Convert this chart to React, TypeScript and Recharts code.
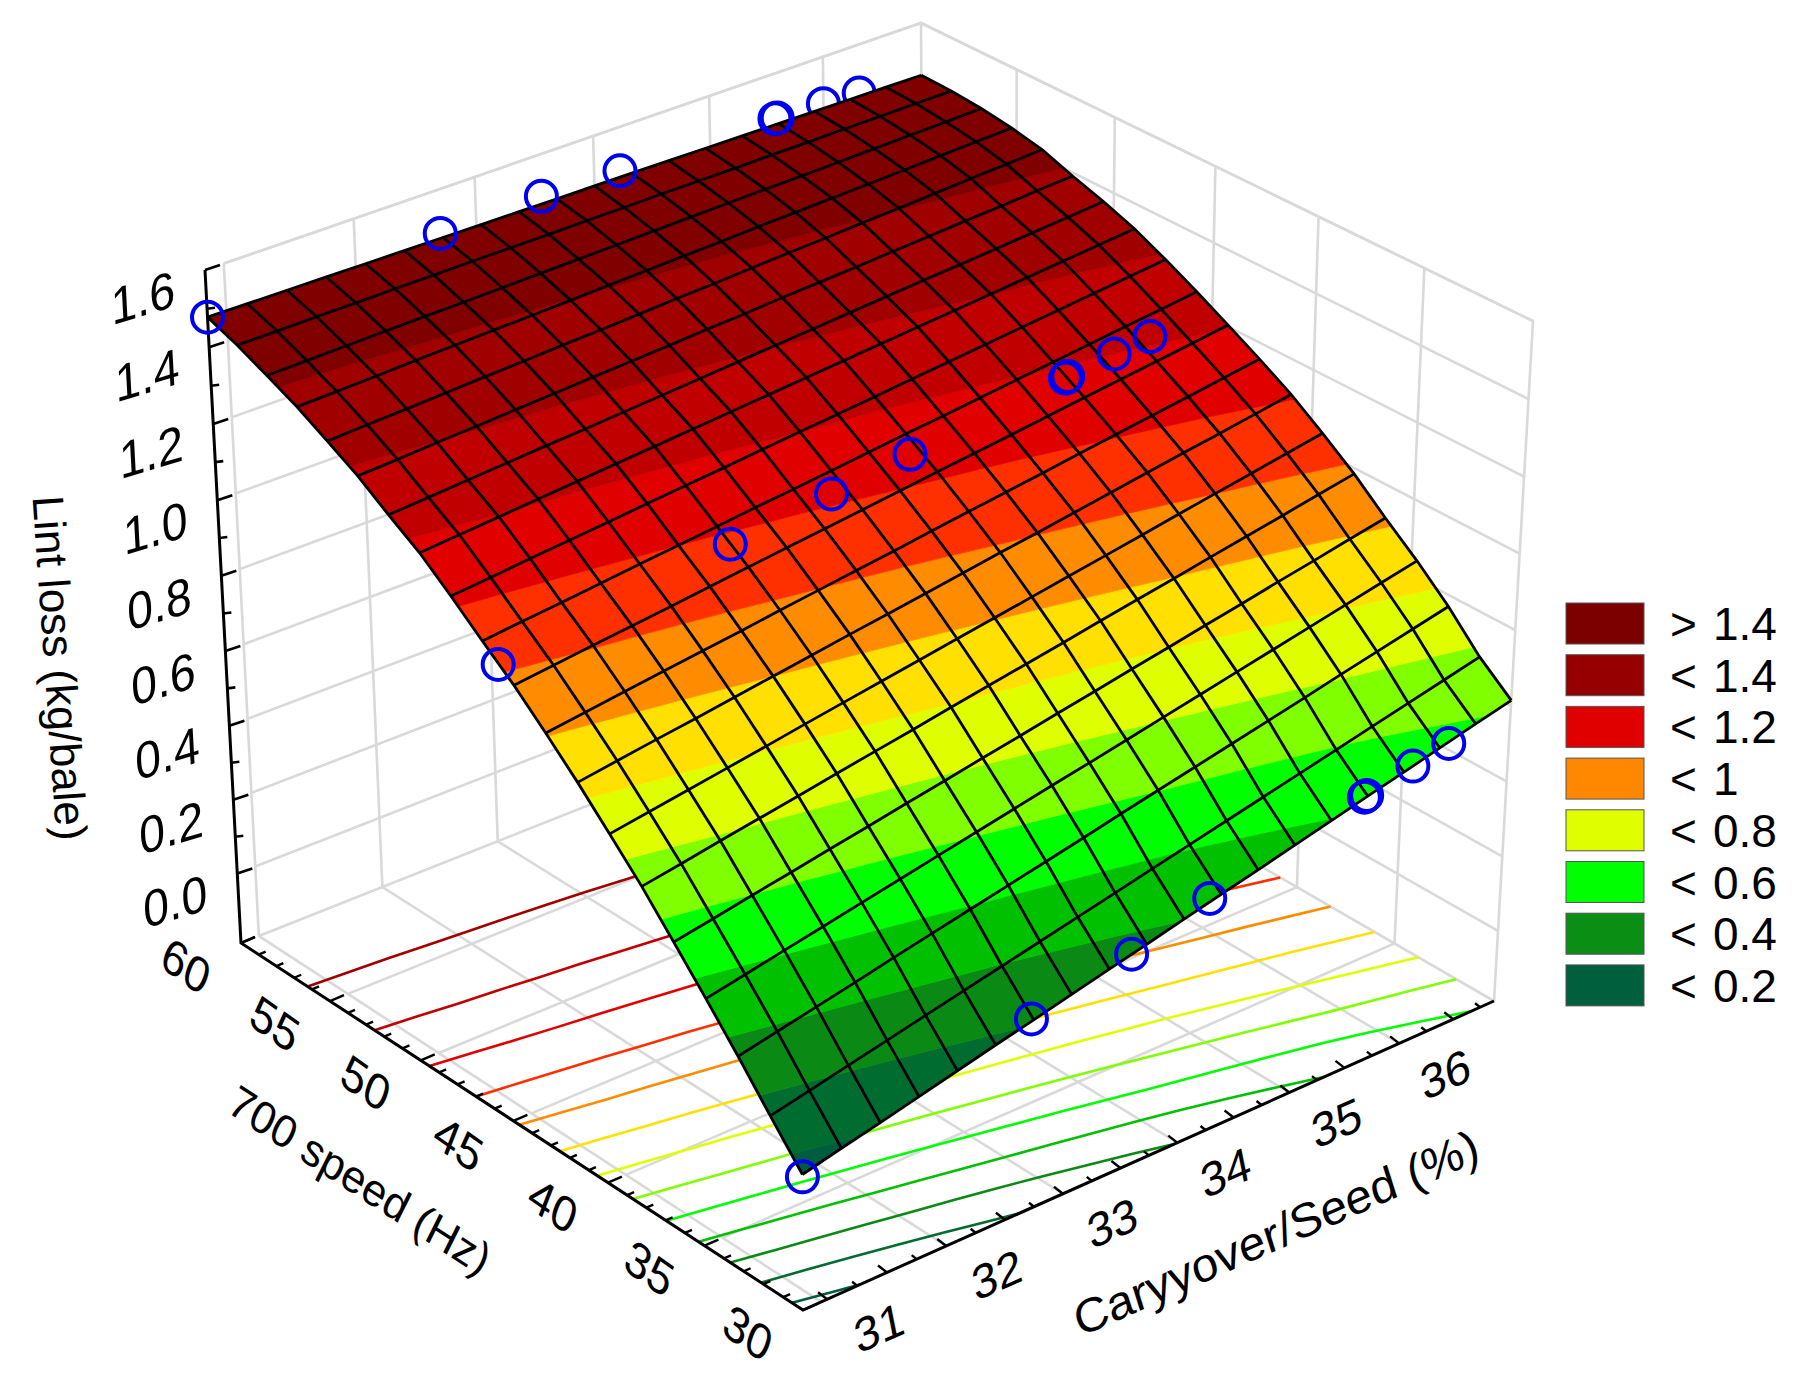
import { ScatterChart, Scatter, XAxis, YAxis } from "recharts";

// mesh nodes of the fitted surface
const speedNodes = [60, 58.42, 56.84, 55.26, 53.68, 52.11, 50.53, 48.95, 47.37, 45.79, 44.21, 42.63, 41.05, 39.47, 37.89, 36.32, 34.74, 33.16, 31.58, 30];
const carryNodes = [30.3, 30.62, 30.94, 31.26, 31.58, 31.9, 32.22, 32.54, 32.86, 33.18, 33.5, 33.82, 34.14, 34.46, 34.78, 35.1, 35.42, 35.74, 36.06, 36.38];

// lint loss, one row per speed node, one column per carryover node
const lintLoss = [
  [1.478, 1.477, 1.476, 1.475, 1.474, 1.473, 1.472, 1.471, 1.47, 1.469, 1.469, 1.468, 1.467, 1.466, 1.465, 1.464, 1.463, 1.462, 1.461, 1.46],
  [1.449, 1.449, 1.45, 1.45, 1.451, 1.451, 1.452, 1.452, 1.452, 1.453, 1.453, 1.454, 1.454, 1.454, 1.455, 1.455, 1.456, 1.456, 1.457, 1.457],
  [1.414, 1.416, 1.418, 1.42, 1.422, 1.423, 1.425, 1.427, 1.429, 1.431, 1.433, 1.435, 1.437, 1.439, 1.44, 1.442, 1.444, 1.446, 1.448, 1.45],
  [1.377, 1.38, 1.383, 1.387, 1.39, 1.393, 1.396, 1.399, 1.403, 1.406, 1.409, 1.412, 1.416, 1.419, 1.422, 1.425, 1.428, 1.432, 1.435, 1.438],
  [1.333, 1.338, 1.342, 1.347, 1.352, 1.356, 1.361, 1.365, 1.37, 1.375, 1.379, 1.384, 1.389, 1.393, 1.398, 1.402, 1.407, 1.412, 1.416, 1.421],
  [1.288, 1.293, 1.299, 1.304, 1.31, 1.315, 1.321, 1.326, 1.331, 1.337, 1.342, 1.348, 1.353, 1.358, 1.364, 1.369, 1.375, 1.38, 1.386, 1.391],
  [1.233, 1.24, 1.247, 1.254, 1.261, 1.267, 1.274, 1.281, 1.288, 1.295, 1.302, 1.309, 1.316, 1.323, 1.33, 1.336, 1.343, 1.35, 1.357, 1.364],
  [1.181, 1.189, 1.197, 1.205, 1.213, 1.221, 1.229, 1.237, 1.245, 1.253, 1.261, 1.269, 1.277, 1.285, 1.293, 1.301, 1.309, 1.317, 1.325, 1.333],
  [1.116, 1.125, 1.135, 1.144, 1.153, 1.163, 1.172, 1.181, 1.191, 1.2, 1.209, 1.218, 1.228, 1.237, 1.246, 1.256, 1.265, 1.274, 1.284, 1.293],
  [1.047, 1.058, 1.068, 1.079, 1.09, 1.1, 1.111, 1.122, 1.132, 1.143, 1.154, 1.165, 1.175, 1.186, 1.197, 1.207, 1.218, 1.229, 1.239, 1.25],
  [0.98, 0.992, 1.004, 1.015, 1.027, 1.039, 1.051, 1.063, 1.074, 1.086, 1.098, 1.11, 1.121, 1.133, 1.145, 1.157, 1.169, 1.18, 1.192, 1.204],
  [0.905, 0.918, 0.932, 0.945, 0.958, 0.971, 0.985, 0.998, 1.011, 1.024, 1.038, 1.051, 1.064, 1.077, 1.091, 1.104, 1.117, 1.13, 1.144, 1.157],
  [0.826, 0.841, 0.856, 0.87, 0.885, 0.9, 0.915, 0.93, 0.944, 0.959, 0.974, 0.989, 1.003, 1.018, 1.033, 1.048, 1.063, 1.077, 1.092, 1.107],
  [0.742, 0.758, 0.774, 0.79, 0.806, 0.823, 0.839, 0.855, 0.871, 0.887, 0.903, 0.919, 0.935, 0.951, 0.967, 0.984, 1.0, 1.016, 1.032, 1.048],
  [0.656, 0.673, 0.691, 0.708, 0.725, 0.743, 0.76, 0.777, 0.795, 0.812, 0.829, 0.846, 0.864, 0.881, 0.898, 0.916, 0.933, 0.95, 0.968, 0.985],
  [0.562, 0.58, 0.599, 0.617, 0.636, 0.654, 0.673, 0.691, 0.71, 0.728, 0.747, 0.765, 0.784, 0.802, 0.821, 0.839, 0.858, 0.876, 0.895, 0.913],
  [0.466, 0.486, 0.506, 0.526, 0.546, 0.566, 0.586, 0.606, 0.626, 0.646, 0.665, 0.685, 0.705, 0.725, 0.745, 0.765, 0.785, 0.805, 0.825, 0.845],
  [0.368, 0.389, 0.41, 0.431, 0.453, 0.474, 0.495, 0.516, 0.537, 0.558, 0.58, 0.601, 0.622, 0.643, 0.664, 0.685, 0.707, 0.728, 0.749, 0.77],
  [0.265, 0.287, 0.309, 0.331, 0.353, 0.375, 0.397, 0.419, 0.441, 0.463, 0.485, 0.507, 0.529, 0.551, 0.573, 0.595, 0.617, 0.639, 0.661, 0.683],
  [0.165, 0.189, 0.212, 0.236, 0.26, 0.284, 0.307, 0.331, 0.355, 0.378, 0.402, 0.426, 0.449, 0.473, 0.497, 0.521, 0.544, 0.568, 0.592, 0.615],
];

// observed points, same carryover values at each of the three speeds
const obsCarry = [30.3, 32.2, 33.05, 33.72, 35.07, 35.09, 35.5, 35.82];
const obsLoss60 = [1.478, 1.485, 1.49, 1.485, 1.48, 1.48, 1.475, 1.47];
const obsLoss45 = [1.01, 1.09, 1.12, 1.145, 1.19, 1.192, 1.205, 1.215];
const obsLoss30 = [0.159, 0.312, 0.369, 0.428, 0.522, 0.524, 0.55, 0.57];

const bandLevels = [0.2, 0.3, 0.4, 0.5, 0.6, 0.7, 0.8, 0.9, 1.0, 1.1, 1.2, 1.3, 1.4];
const bandColors = ["#005c40", "#006c30", "#0a8a14", "#00c000", "#00ff00", "#80ff00", "#dfff00", "#ffe000", "#ff8c00", "#ff3000", "#e00000", "#c00000", "#a00000", "#800000"];

const lossTicks = [1.6, 1.4, 1.2, 1.0, 0.8, 0.6, 0.4, 0.2, 0.0];
const speedTicks = [60, 55, 50, 45, 40, 35, 30];
const carryTicks = [31, 32, 33, 34, 35, 36];
const carryGrid = [31.5, 32.5, 33.5, 34.5, 35.5];

const legendSigns = [">", "<", "<", "<", "<", "<", "<", "<"];
const legendValues = ["1.4", "1.4", "1.2", "1", "0.8", "0.6", "0.4", "0.2"];
const legendColors = ["#7c0000", "#960000", "#e00000", "#ff8800", "#dfff00", "#00ff00", "#0a8f14", "#005f3c"];

const WIDTH = 1800;
const HEIGHT = 1386;
const FONT = "'Liberation Sans', Arial, sans-serif";
const CARRY_MIN = 30.3;
const CARRY_MAX = 36.38;
const LOSS_MIN = -0.19;
const LOSS_MAX = 1.6;
const WALL_CARRY = 30.45;

type Pt = { x: number; y: number };

// unit square -> quad, corners ordered (0,0) (1,0) (1,1) (0,1)
const makeQuad = (p: number[][]) => {
  const [[x0, y0], [x1, y1], [x2, y2], [x3, y3]] = p;
  const dx1 = x1 - x2, dx2 = x3 - x2, sx = x0 - x1 + x2 - x3;
  const dy1 = y1 - y2, dy2 = y3 - y2, sy = y0 - y1 + y2 - y3;
  const den = dx1 * dy2 - dx2 * dy1;
  const g = (sx * dy2 - dx2 * sy) / den;
  const h = (dx1 * sy - sx * dy1) / den;
  const a = x1 - x0 + g * x1, b = x3 - x0 + h * x3;
  const d = y1 - y0 + g * y1, e = y3 - y0 + h * y3;
  return (u: number, v: number): Pt => {
    const q = g * u + h * v + 1;
    return { x: (a * u + b * v + x0) / q, y: (d * u + e * v + y0) / q };
  };
};

// the box as photographed: speed 60/carry min, speed 60/carry max, speed 30/carry max, speed 30/carry min
const floorQuad = makeQuad([[241, 943], [925, 672], [1494, 1001], [803, 1310]]);
const topQuad = makeQuad([[205, 270], [921, 23], [1533, 321], [800, 610]]);

const project = (speed: number, carry: number, loss: number): Pt => {
  const u = (carry - CARRY_MIN) / (CARRY_MAX - CARRY_MIN);
  const v = (60 - speed) / 30;
  const w0 = (loss - LOSS_MIN) / (LOSS_MAX - LOSS_MIN);
  const w = (0.97 * w0) / (1 - w0 + 0.97 * w0);
  const f = floorQuad(u, v);
  const t = topQuad(u, v);
  return { x: f.x + (t.x - f.x) * w, y: f.y + (t.y - f.y) * w };
};

type V = { s: number; c: number; z: number };

// keep the part of a cell on one side of a level, z varies linearly along each edge
const clip = (poly: V[], level: number, above: boolean): V[] => {
  const out: V[] = [];
  poly.forEach((a, k) => {
    const b = poly[(k + 1) % poly.length];
    const ina = above ? a.z >= level : a.z <= level;
    const inb = above ? b.z >= level : b.z <= level;
    if (ina) out.push(a);
    if (ina !== inb) {
      const t = (level - a.z) / (b.z - a.z);
      out.push({ s: a.s + (b.s - a.s) * t, c: a.c + (b.c - a.c) * t, z: level });
    }
  });
  return out;
};

const surfacePolys: any[] = [];
for (let i = 0; i < speedNodes.length - 1; i++) {
  for (let j = 0; j < carryNodes.length - 1; j++) {
    const cell: V[] = [
      { s: speedNodes[i], c: carryNodes[j], z: lintLoss[i][j] },
      { s: speedNodes[i], c: carryNodes[j + 1], z: lintLoss[i][j + 1] },
      { s: speedNodes[i + 1], c: carryNodes[j + 1], z: lintLoss[i + 1][j + 1] },
      { s: speedNodes[i + 1], c: carryNodes[j], z: lintLoss[i + 1][j] },
    ];
    bandColors.forEach((fill, b) => {
      let part = cell;
      if (b > 0) part = clip(part, bandLevels[b - 1], true);
      if (b < bandLevels.length && part.length) part = clip(part, bandLevels[b], false);
      if (part.length < 3) return;
      const pts = part.map((p) => project(p.s, p.c, p.z));
      surfacePolys.push({ x: pts[0].x, y: pts[0].y, pts, fill });
    });
  }
}

// contour of one level on the floor, walking across the carryover columns
const contourOnFloor = (level: number): Pt[] => {
  const out: Pt[] = [];
  const last = speedNodes.length - 1;
  const crossing = (j: number) => {
    for (let i = 0; i < last; i++) {
      const a = lintLoss[i][j], b = lintLoss[i + 1][j];
      if ((a - level) * (b - level) <= 0 && a !== b) {
        return speedNodes[i] + ((speedNodes[i + 1] - speedNodes[i]) * (level - a)) / (b - a);
      }
    }
    return null;
  };
  carryNodes.forEach((c, j) => {
    const s = crossing(j);
    if (s !== null) {
      out.push(project(s, c, LOSS_MIN));
    } else if (j > 0 && crossing(j - 1) !== null) {
      const row = lintLoss[last][j] > level ? last : 0;
      const a = lintLoss[row][j - 1], b = lintLoss[row][j];
      if ((a - level) * (b - level) <= 0) {
        out.push(project(speedNodes[row], carryNodes[j - 1] + ((c - carryNodes[j - 1]) * (level - a)) / (b - a), LOSS_MIN));
      }
    }
  });
  return out;
};

const range = (from: number, to: number, step: number) => {
  const out: number[] = [];
  for (let v = from; v <= to + 1e-6; v += step) out.push(Math.round(v * 100) / 100);
  return out;
};

const NoMark = () => null;

const polygonMark = (props: any) => {
  const { cx, cy, payload } = props;
  const points = payload.pts.map((p: Pt) => `${cx + p.x - payload.x},${cy + p.y - payload.y}`).join(" ");
  return <polygon points={points} fill={payload.fill} stroke={payload.fill} strokeWidth={0.7} />;
};

const ringMark = (props: any) => (
  <circle cx={props.cx} cy={props.cy} r={15.5} fill="none" stroke="#0000f0" strokeWidth={4} />
);

const textMark = (size: number, m: number[]) => (props: any) => (
  <text
    transform={`translate(${props.cx},${props.cy}) matrix(${m.join(" ")} 0 0)`}
    textAnchor="middle"
    dominantBaseline="central"
    fontFamily={FONT}
    fontSize={size}
    fill="#000"
  >
    {props.payload.label}
  </text>
);

const legendMark = (props: any) => {
  const { cx, cy, payload } = props;
  return (
    <g fontFamily={FONT} fontSize={46} fill="#000">
      <rect x={cx} y={cy} width={78} height={41} fill={payload.fill} stroke="#555" strokeWidth={1} />
      <text x={cx + 104} y={cy + 37}>{payload.sign}</text>
      <text x={cx + 147} y={cy + 37}>{payload.value}</text>
    </g>
  );
};

// lines, each one its own series so it can carry its own stroke
const wire = (key: string, pts: Pt[], stroke: string, strokeWidth: number) => (
  <Scatter key={key} data={pts} line={{ stroke, strokeWidth }} shape={NoMark} isAnimationActive={false} />
);

const ring = (speed: number, losses: number[], idx: number[]) =>
  idx.map((k) => project(speed, obsCarry[k], losses[k]));

const along = (pts: Pt[], dx: number, dy: number) => [pts[0], { x: pts[0].x + dx, y: pts[0].y + dy }];

const App = () => {
  const wallLosses = range(0, 1.6, 0.2);
  const speedGrid = [55, 50, 45, 40, 35];
  const tickLoss = range(0, 1.6, 0.1);
  const tickSpeed = range(30, 60, 1);
  const tickCarry = range(30.5, 36.25, 0.25);

  return (
    <div style={{ position: "absolute", left: 0, top: 0, width: WIDTH, height: HEIGHT, background: "#fff" }}>
      <ScatterChart width={WIDTH} height={HEIGHT} margin={{ top: 0, right: 0, bottom: 0, left: 0 }}>
        <XAxis type="number" dataKey="x" domain={[0, WIDTH]} hide />
        <YAxis type="number" dataKey="y" domain={[0, HEIGHT]} reversed hide />

        {/* walls and floor */}
        {wallLosses.map((z) => wire(`wa${z}`, [project(60, WALL_CARRY, z), project(60, CARRY_MAX, z), project(30, CARRY_MAX, z)], "#d9d9d9", 2.6))}
        {wire("wt", [project(60, WALL_CARRY, LOSS_MAX), project(60, CARRY_MAX, LOSS_MAX), project(30, CARRY_MAX, LOSS_MAX), project(30, CARRY_MAX, LOSS_MIN)], "#d9d9d9", 2.6)}
        {wire("wf", [project(30, WALL_CARRY, LOSS_MIN), project(60, WALL_CARRY, LOSS_MIN), project(60, WALL_CARRY, LOSS_MAX)], "#d9d9d9", 2.6)}
        {wire("wb", [project(60, CARRY_MAX, LOSS_MAX), project(60, CARRY_MAX, LOSS_MIN), project(60, WALL_CARRY, LOSS_MIN)], "#d9d9d9", 2.6)}
        {wire("wc", [project(60, CARRY_MAX, LOSS_MIN), project(30, CARRY_MAX, LOSS_MIN)], "#d9d9d9", 2.6)}
        {carryGrid.map((c) => wire(`gc${c}`, [project(60, c, LOSS_MAX), project(60, c, LOSS_MIN), project(30, c, LOSS_MIN)], "#d9d9d9", 2.6))}
        {speedGrid.map((s) => wire(`gs${s}`, [project(s, WALL_CARRY, LOSS_MIN), project(s, CARRY_MAX, LOSS_MIN), project(s, CARRY_MAX, LOSS_MAX)], "#d9d9d9", 2.6))}

        {/* contours projected on the floor */}
        {bandLevels.map((level, k) => wire(`ct${level}`, contourOnFloor(level), bandColors[k], 2.6))}

        {/* axes */}
        {wire("axes", [project(60, CARRY_MIN, LOSS_MAX), project(60, CARRY_MIN, LOSS_MIN), project(30, CARRY_MIN, LOSS_MIN), project(30, CARRY_MAX, LOSS_MIN)], "#000", 3)}
        {tickLoss.map((z, k) => wire(`tl${z}`, along([project(60, CARRY_MIN, z)], k % 2 ? 8 : 15, k % 2 ? -1 : -5), "#000", 2.6))}
        {tickSpeed.map((s) => wire(`ts${s}`, along([project(s, CARRY_MIN, LOSS_MIN)], s % 5 ? 7 : 14, s % 5 ? -3 : -6), "#000", 2.4))}
        {tickCarry.map((c) => wire(`tc${c}`, along([project(30, c, LOSS_MIN)], (c * 2) % 1 ? -5 : -9, (c * 2) % 1 ? -4 : -7), "#000", 2.4))}
        {wire("tEnd", along([project(60, CARRY_MIN, LOSS_MIN)], 14, -6), "#000", 2.6)}

        {/* the two rings that the surface hides in part */}
        <Scatter data={ring(60, obsLoss60, [6, 7])} shape={ringMark} isAnimationActive={false} />

        {/* surface */}
        <Scatter data={surfacePolys} shape={polygonMark} isAnimationActive={false} />
        {speedNodes.map((s) => wire(`ms${s}`, carryNodes.map((c, j) => project(s, c, lintLoss[speedNodes.indexOf(s)][j])), "#000", 2.8))}
        {carryNodes.map((c, j) => wire(`mc${c}`, speedNodes.map((s, i) => project(s, c, lintLoss[i][j])), "#000", 2.8))}

        {/* observed points */}
        <Scatter data={ring(60, obsLoss60, [0, 1, 2, 3, 4, 5])} shape={ringMark} isAnimationActive={false} />
        <Scatter data={ring(45, obsLoss45, [0, 1, 2, 3, 4, 5, 6, 7])} shape={ringMark} isAnimationActive={false} />
        <Scatter data={ring(30, obsLoss30, [0, 1, 2, 3, 4, 5, 6, 7])} shape={ringMark} isAnimationActive={false} />

        {/* tick labels */}
        <Scatter
          data={lossTicks.map((z) => {
            const p = project(60, CARRY_MIN, z);
            return { x: p.x - 62, y: p.y + 28, label: z.toFixed(1) };
          })}
          shape={textMark(46, [1, -0.3, 0.06, 1.12])}
          isAnimationActive={false}
        />
        <Scatter
          data={speedTicks.map((s) => {
            const p = project(s, CARRY_MIN, LOSS_MIN);
            return { x: p.x - 55, y: p.y + 23, label: String(s) };
          })}
          shape={textMark(45, [0.88, 0.62, -0.38, 0.98])}
          isAnimationActive={false}
        />
        <Scatter
          data={carryTicks.map((c) => {
            const p = project(30, c, LOSS_MIN);
            return { x: p.x - 8, y: p.y + 55, label: String(c) };
          })}
          shape={textMark(46, [0.95, -0.42, 0.2, 1])}
          isAnimationActive={false}
        />

        {/* axis titles */}
        <Scatter data={[{ x: 60, y: 668, label: "Lint loss (kg/bale)" }]} shape={textMark(44, [0.07, 1, -1, 0.07])} isAnimationActive={false} />
        <Scatter data={[{ x: 360, y: 1180, label: "700 speed (Hz)" }]} shape={textMark(44, [0.85, 0.55, -0.45, 0.9])} isAnimationActive={false} />
        <Scatter data={[{ x: 1276, y: 1233, label: "Caryyover/Seed (%)" }]} shape={textMark(47, [0.95, -0.42, 0.3, 0.95])} isAnimationActive={false} />

        {/* legend */}
        <Scatter
          data={legendValues.map((value, k) => ({ x: 1566, y: 603 + 51.7 * k, value, sign: legendSigns[k], fill: legendColors[k] }))}
          shape={legendMark}
          isAnimationActive={false}
        />
      </ScatterChart>
    </div>
  );
};

export default App;
